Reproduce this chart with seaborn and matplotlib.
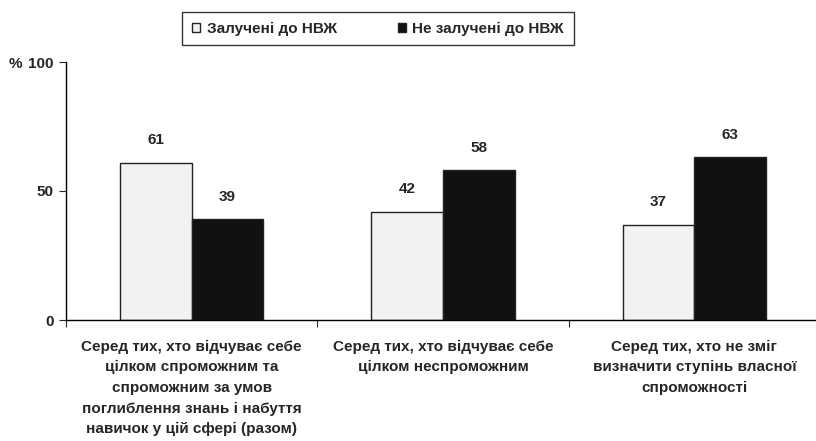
import pandas as pd
import matplotlib.pyplot as plt
import seaborn as sns

categories = [
    'Серед тих, хто відчуває себе\nцілком спроможним та\nспроможним за умов\nпоглиблення знань і набуття\nнавичок у цій сфері (разом)',
    'Серед тих, хто відчуває себе\nцілком неспроможним',
    'Серед тих, хто не зміг\nвизначити ступінь власної\nспроможності',
]
series = ['Залучені до НВЖ', 'Не залучені до НВЖ']
involved = [61, 42, 37]
not_involved = [39, 58, 63]

df = pd.DataFrame({
    'category': categories * 2,
    'group': [series[0]] * 3 + [series[1]] * 3,
    'value': involved + not_involved,
})

sns.set_style('white')
plt.rcParams['font.family'] = ['Liberation Sans', 'DejaVu Sans']

fig = plt.figure(figsize=(8.16, 4.41), dpi=100)
ax = fig.add_axes([66 / 816, 1 - 320 / 441, 754 / 816, 258 / 441])

sns.barplot(data=df, x='category', y='value', hue='group', hue_order=series,
            palette=['#f2f2f2', '#111111'], width=0.57, edgecolor='#222222',
            linewidth=1.0, ax=ax, legend=True)

for cont in ax.containers:
    for bar in cont:
        h = bar.get_height()
        ax.text(bar.get_x() + bar.get_width() / 2, h + 6, f'{h:.0f}',
                ha='center', va='bottom', fontsize=11, fontweight='bold')

ax.set_xlim(-0.5, 2.5)
ax.set_ylim(0, 100)
ax.set_yticks([0, 50, 100])
ax.set_yticklabels(['0', '50', '100'])
ax.tick_params(axis='y', direction='out', length=5, width=0.8, left=True, pad=4, labelsize=11)
ax.set_xticks([0, 1, 2])
ax.set_xticklabels(categories, linespacing=1.6)
ax.tick_params(axis='x', which='major', length=0, pad=14, labelsize=11)
ax.set_xticks([-0.5, 0.5, 1.5, 2.5], minor=True)
ax.tick_params(axis='x', which='minor', direction='out', length=5, width=0.8, bottom=True)
for lab in ax.get_xticklabels() + ax.get_yticklabels():
    lab.set_fontweight('bold')
ax.set_xlabel('')
ax.set_ylabel('')
for s in ['top', 'right']:
    ax.spines[s].set_visible(False)
for s in ['left', 'bottom']:
    ax.spines[s].set_color('black')
    ax.spines[s].set_linewidth(1.0)

fig.text(9 / 816, 1 - 64 / 441, '%', ha='left', va='center', fontsize=11, fontweight='bold')

handles, labels = ax.get_legend_handles_labels()
ax.get_legend().remove()
leg = fig.legend(handles, labels, loc='center', bbox_to_anchor=(378 / 816, 1 - 28.5 / 441),
                 ncol=2, frameon=True, fancybox=False, edgecolor='black',
                 handlelength=0.55, handleheight=0.55, handletextpad=0.4,
                 columnspacing=4.0, borderpad=0.65, borderaxespad=0,
                 prop={'size': 11, 'weight': 'bold'})
leg.get_frame().set_linewidth(1.0)

plt.savefig('out.png', dpi=100)
